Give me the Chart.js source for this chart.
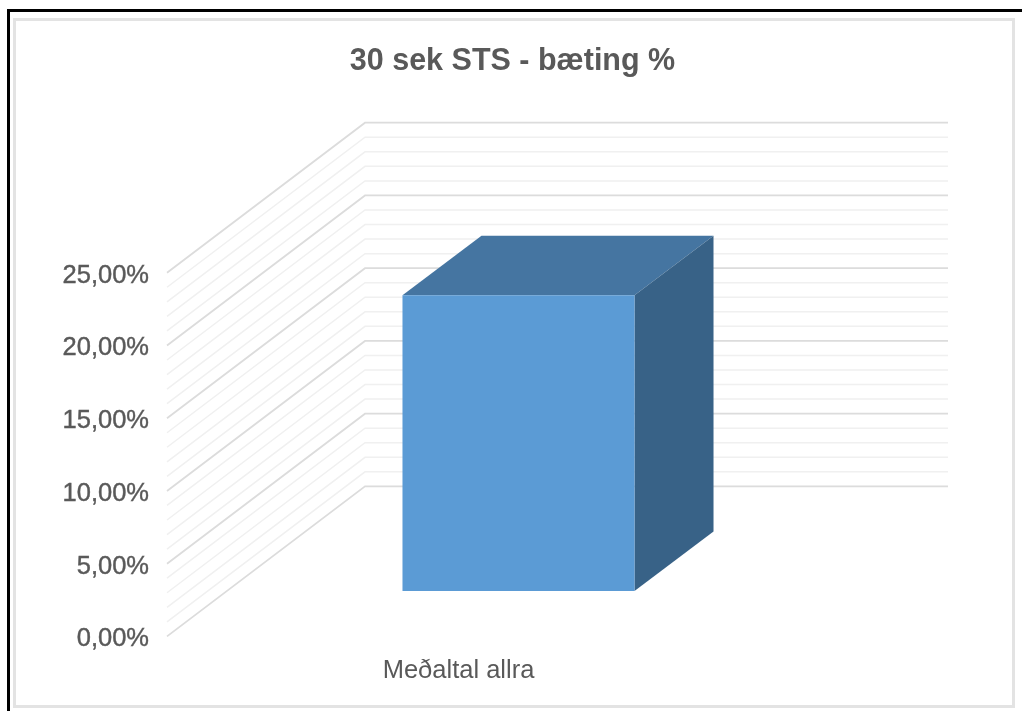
<!DOCTYPE html>
<html>
<head>
<meta charset="utf-8">
<title>30 sek STS</title>
<script src="https://cdn.jsdelivr.net/npm/chart.js@4"></script>
<style>
	html, body { margin: 0; padding: 0; background: #fff; overflow: hidden; }
	#wrap { position: relative; width: 1022px; height: 711px; }
	#black { position: absolute; left: 7px; top: 9px; right: 0; bottom: 0; border-left: 3px solid #000; border-top: 3px solid #000; }
	#frame { position: absolute; left: 13px; top: 18px; width: 996px; height: 684px; border: 3px solid #e3e3e3; }
	#mycanvas { position: absolute; left: 0; top: 0; filter: blur(0.5px); }
</style>
</head>
<body>
<div id="wrap">
	<div id="black"></div>
	<div id="frame"></div>
	<canvas id="mycanvas" width="1022" height="711"></canvas>
</div>
<script>
var categories = ["Meðaltal allra"];
var values = [20.33];
var tickLabels = ["0,00%", "5,00%", "10,00%", "15,00%", "20,00%", "25,00%"];
var titleText = "30 sek STS - bæting %";

// depth of the fake 3D box, in pixels
var wallDx = 198, wallDy = 150;
var barShiftX = 60, barShiftY = 45.5;
var barDepthX = 79, barDepthY = 59.5;

var poly = function(ctx, pts, color){
	ctx.fillStyle = color;
	ctx.beginPath();
	ctx.moveTo(pts[0][0], pts[0][1]);
	for(var i = 1; i < pts.length; i++) {
		ctx.lineTo(pts[i][0], pts[i][1]);
	}
	ctx.closePath();
	ctx.fill();
};

var box3d = {
	id: "box3d",
	afterLayout: function(chart){
		// title is centred on the whole picture, not on the padded area
		var shift = 512.5 - (chart.titleBlock.left + chart.titleBlock.right) / 2;
		chart.titleBlock.left += shift;
		chart.titleBlock.right += shift;
	},
	beforeDatasetsDraw: function(chart){
		var ctx = chart.ctx;
		var y = chart.scales.y;
		var left = chart.chartArea.left;
		var right = chart.chartArea.right;

		// walls: floor line, back line
		ctx.save();
		y.ticks.forEach(function(t){
			var major = t.value % 5 === 0;
			var py = y.getPixelForValue(t.value);
			ctx.strokeStyle = major ? "#dcdcdc" : "#f0f0f0";
			ctx.lineWidth = major ? 1.8 : 1.5;
			ctx.beginPath();
			ctx.moveTo(left, py);
			ctx.lineTo(left + wallDx, py - wallDy);
			ctx.lineTo(right + wallDx, py - wallDy);
			ctx.stroke();
		});
		ctx.restore();

		// top and side of the bar
		var bar = chart.getDatasetMeta(0).data[0];
		var x1 = bar.x - bar.width / 2 + barShiftX;
		var x2 = bar.x + bar.width / 2 + barShiftX;
		var top = bar.y - barShiftY;
		var base = bar.base - barShiftY;
		poly(ctx, [[x1, top], [x2, top], [x2 + barDepthX, top - barDepthY], [x1 + barDepthX, top - barDepthY]], "#4575A1");
		poly(ctx, [[x2, top], [x2 + barDepthX, top - barDepthY], [x2 + barDepthX, base - barDepthY], [x2, base]], "#386287");

		// front of the bar sits inside the floor
		ctx.save();
		ctx.translate(barShiftX, -barShiftY);
	},
	afterDatasetsDraw: function(chart){
		chart.ctx.restore();
	}
};

var ctx = document.getElementById("mycanvas");

var BarGraph = new Chart(ctx, {
	type: "bar",
	plugins: [box3d],
	data: {
		labels: categories,
		datasets: [
			{
				label: "30 sek STS",
				backgroundColor: "#5B9BD5",
				borderWidth: 0,
				barPercentage: 0.398,
				categoryPercentage: 1,
				data: values
			}
		]
	},
	options: {
		responsive: false,
		animation: false,
		layout: { padding: { left: 40, right: 272, top: 0, bottom: 27 } },
		plugins: {
			legend: { display: false },
			tooltip: { enabled: false },
			title: {
				display: true,
				text: titleText,
				color: "#595959",
				font: { family: "Liberation Sans", size: 30.5, weight: "bold" },
				padding: { top: 43.7, bottom: 192.4 }
			}
		},
		scales: {
			x: {
				grid: { display: false, drawTicks: false },
				border: { display: false },
				afterFit: function(scale){ scale.height = 47.6; },
				ticks: {
					color: "#595959",
					padding: 19,
					maxRotation: 0,
					font: { family: "Liberation Sans", size: 25.5 }
				}
			},
			y: {
				min: 0,
				max: 25,
				grid: { display: false, drawTicks: false },
				border: { display: false },
				afterFit: function(scale){ scale.width = 127; },
				ticks: {
					stepSize: 1,
					autoSkip: false,
					color: "#595959",
					textStrokeColor: "#595959",
					textStrokeWidth: 0.4,
					padding: 18,
					labelOffset: 3,
					font: { family: "Liberation Sans", size: 25.5 },
					callback: function(v){
						return v % 5 === 0 ? tickLabels[v / 5] : "";
					}
				}
			}
		}
	}
});
</script>
</body>
</html>
